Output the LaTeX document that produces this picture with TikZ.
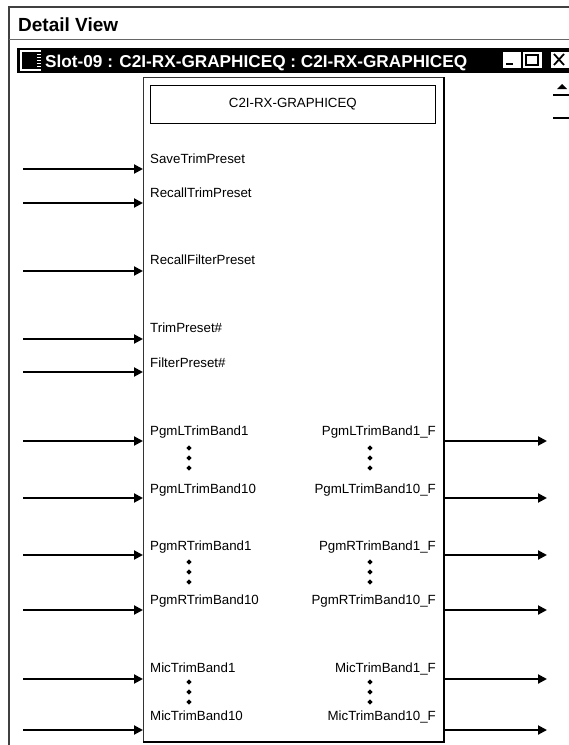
\documentclass[tikz,border=0pt]{standalone}
\usepackage{fontspec}
\setmainfont{Liberation Sans}
\usetikzlibrary{arrows.meta,shapes.geometric}

\begin{document}
\begin{tikzpicture}[x=1pt,y=-1pt,
  port/.style={font=\fontsize{13.3}{15}\selectfont,inner sep=0pt},
  inp/.style={port,anchor=base west},
  outp/.style={port,anchor=base east},
  sig/.style={line width=2pt,-{Triangle[length=9pt,width=9pt]}},
  dot/.style={diamond,fill=black,inner sep=0pt,minimum size=5.5pt},
  frame/.style={black!75,line width=1.2pt},
  btn/.style={fill=white,draw=black,line width=0.6pt}]
 \useasboundingbox (0,0) rectangle (569,745);
 % detail view frame
 \draw[frame] (9,745) -- (9,7) -- (569,7);
 \draw[black!60,line width=1pt] (9,39) -- (569,39);
 \node[anchor=base west,inner sep=0pt,font=\fontsize{19}{21}\selectfont\bfseries] (dview) at (18,31) {Detail View};
 % window title bar
 \fill[black] (17,48) rectangle (569,73);
 \draw[white,line width=1.5pt] (41,51) -- (21,51) -- (21,70) -- (41,70);
 \draw[white,line width=0.8pt] (37,54)--(41,54) (37,57)--(41,57) (37,60)--(41,60) (37,63)--(41,63) (37,66)--(41,66);
 \node[anchor=base west,inner sep=0pt,white,font=\fontsize{17.2}{19}\selectfont\bfseries] (wtitle) at (45,67) {Slot-09 : C2I-RX-GRAPHICEQ : C2I-RX-GRAPHICEQ};
 \draw[btn] (502,51) rectangle (521,68);
 \draw[line width=2pt] (506,64) -- (513,64);
 \draw[btn] (522,51) rectangle (542,68);
 \draw[line width=1.2pt] (526,54.5) rectangle (538,65);
 \draw[line width=1.2pt] (526,55.5) -- (538,55.5);
 \draw[btn] (550,51) rectangle (572,68);
 \draw[line width=1.8pt] (554,54) -- (564,65) (554,65) -- (564,54);
 % scroll bits
 \fill (557,89) -- (567,89) -- (562,84) -- cycle;
 \draw[line width=1.5pt] (553,95) -- (569,95);
 \draw[line width=1.5pt] (553,118) -- (569,118);
 % block
 \node[draw=black!80,line width=0.8pt,minimum width=300pt,minimum height=664pt,anchor=north west,inner sep=0pt] (blk) at (143,77) {};
 \draw[line width=2.2pt] (blk.north east) -- (blk.south east) -- (blk.south west);
 \node[draw,line width=0.8pt,minimum width=285pt,minimum height=38pt,anchor=north west,inner sep=0pt,font=\fontsize{13.3}{15}\selectfont] (ttl) at (150,85) {C2I-RX-GRAPHICEQ};
 % inputs
 \node[inp] (save) at (150,163) {SaveTrimPreset};
 \node[inp] (rtrim) at (150,197) {RecallTrimPreset};
 \node[inp] (rfilt) at (150,264) {RecallFilterPreset};
 \node[inp] (tnum) at (150,332) {TrimPreset\#};
 \node[inp] (fnum) at (150,367) {FilterPreset\#};
 \node[inp] (l1) at (150,435) {PgmLTrimBand1};
 \node[inp] (l10) at (150,493) {PgmLTrimBand10};
 \node[inp] (r1) at (150,550) {PgmRTrimBand1};
 \node[inp] (r10) at (150,604) {PgmRTrimBand10};
 \node[inp] (m1) at (150,672) {MicTrimBand1};
 \node[inp] (m10) at (150,720) {MicTrimBand10};
 % outputs
 \node[outp] (l1f) at (436,435) {PgmLTrimBand1\_F};
 \node[outp] (l10f) at (436,493) {PgmLTrimBand10\_F};
 \node[outp] (r1f) at (436,550) {PgmRTrimBand1\_F};
 \node[outp] (r10f) at (436,604) {PgmRTrimBand10\_F};
 \node[outp] (m1f) at (436,672) {MicTrimBand1\_F};
 \node[outp] (m10f) at (436,720) {MicTrimBand10\_F};
 % dots
 \node[dot] (dl1) at (189,448) {}; \node[dot] (dl2) at (189,458) {}; \node[dot] (dl3) at (189,468) {};
 \node[dot] (dr1) at (189,562) {}; \node[dot] (dr2) at (189,572) {}; \node[dot] (dr3) at (189,582) {};
 \node[dot] (dm1) at (189,682) {}; \node[dot] (dm2) at (189,692) {}; \node[dot] (dm3) at (189,702) {};
 \node[dot] (el1) at (370,448) {}; \node[dot] (el2) at (370,458) {}; \node[dot] (el3) at (370,468) {};
 \node[dot] (er1) at (370,562) {}; \node[dot] (er2) at (370,572) {}; \node[dot] (er3) at (370,582) {};
 \node[dot] (em1) at (370,682) {}; \node[dot] (em2) at (370,692) {}; \node[dot] (em3) at (370,702) {};
 % input wires
 \coordinate (i1) at (23,169); \coordinate (i2) at (23,203); \coordinate (i3) at (23,271);
 \coordinate (i4) at (23,339); \coordinate (i5) at (23,372); \coordinate (i6) at (23,441);
 \coordinate (i7) at (23,498); \coordinate (i8) at (23,555); \coordinate (i9) at (23,610);
 \coordinate (i10) at (23,679); \coordinate (i11) at (23,730);
 \draw[sig] (i1) -- (blk.west |- i1);
 \draw[sig] (i2) -- (blk.west |- i2);
 \draw[sig] (i3) -- (blk.west |- i3);
 \draw[sig] (i4) -- (blk.west |- i4);
 \draw[sig] (i5) -- (blk.west |- i5);
 \draw[sig] (i6) -- (blk.west |- i6);
 \draw[sig] (i7) -- (blk.west |- i7);
 \draw[sig] (i8) -- (blk.west |- i8);
 \draw[sig] (i9) -- (blk.west |- i9);
 \draw[sig] (i10) -- (blk.west |- i10);
 \draw[sig] (i11) -- (blk.west |- i11);
 % output wires
 \coordinate (o1) at (547,441); \coordinate (o2) at (547,498); \coordinate (o3) at (547,555);
 \coordinate (o4) at (547,610); \coordinate (o5) at (547,679); \coordinate (o6) at (547,730);
 \draw[sig] ([xshift=1pt]blk.east |- o1) -- (o1);
 \draw[sig] ([xshift=1pt]blk.east |- o2) -- (o2);
 \draw[sig] ([xshift=1pt]blk.east |- o3) -- (o3);
 \draw[sig] ([xshift=1pt]blk.east |- o4) -- (o4);
 \draw[sig] ([xshift=1pt]blk.east |- o5) -- (o5);
 \draw[sig] ([xshift=1pt]blk.east |- o6) -- (o6);
\end{tikzpicture}
\end{document}
